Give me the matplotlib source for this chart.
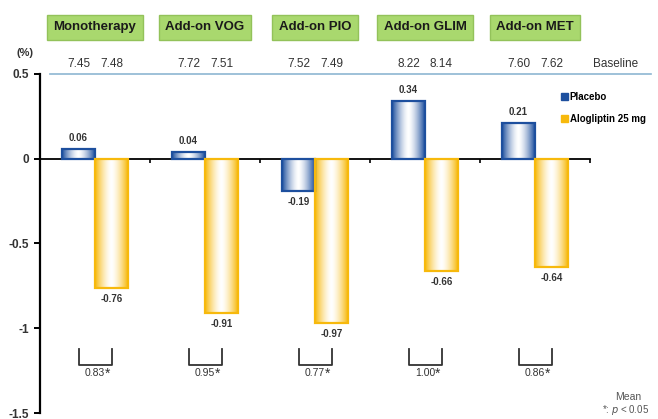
import numpy as np
import matplotlib
matplotlib.use("Agg")
import matplotlib.pyplot as plt
from matplotlib.colors import LinearSegmentedColormap
from matplotlib.patches import Rectangle, Patch

plt.rcParams['font.family'] = ['Liberation Sans', 'DejaVu Sans']

groups = ["Monotherapy", "Add-on VOG", "Add-on PIO", "Add-on GLIM", "Add-on MET"]
placebo = [0.06, 0.04, -0.19, 0.34, 0.21]
alogliptin = [-0.76, -0.91, -0.97, -0.66, -0.64]
baseline_placebo = ["7.45", "7.72", "7.52", "8.22", "7.60"]
baseline_alo = ["7.48", "7.51", "7.49", "8.14", "7.62"]
differences = ["0.83", "0.95", "0.77", "1.00", "0.86"]
yticks = [0.5, 0, -0.5, -1, -1.5]
ytick_labels = ["0.5", "0", "-0.5", "-1", "-1.5"]

BLUE = "#1d4f9e"
YELLOW = "#f7b90c"
TEXT = "#333333"

fig = plt.figure(figsize=(6.58, 4.19), dpi=100)
ax = fig.add_axes([40 / 658, 6 / 419, 550 / 658, 339 / 419])
ax.set_xlim(-0.5, 4.5)
ax.set_ylim(-1.5, 0.5)

w = 0.3
prof = np.abs(np.linspace(-1, 1, 200)) ** 1.5
grad = np.tile(prof, (2, 1))


def gradient_bar(xc, val, color):
    cmap = LinearSegmentedColormap.from_list("g", ["white", color])
    x0, x1 = xc - w / 2, xc + w / 2
    y0, y1 = min(0, val), max(0, val)
    ax.imshow(grad, cmap=cmap, vmin=0, vmax=1, extent=[x0, x1, y0, y1],
              aspect="auto", interpolation="bilinear", zorder=2)
    ax.add_patch(Rectangle((x0, y0), w, y1 - y0, fill=False,
                           edgecolor=color, linewidth=1.6, zorder=3))


for i in range(len(groups)):
    xp, xa = i - w / 2, i + w / 2
    gradient_bar(xp, placebo[i], BLUE)
    gradient_bar(xa, alogliptin[i], YELLOW)
    for xc, v in ((xp, placebo[i]), (xa, alogliptin[i])):
        off = 0.035 if v >= 0 else -0.035
        ax.text(xc, v + off, f"{v:.2f}", ha="center",
                va="bottom" if v >= 0 else "top",
                fontsize=7, fontweight="bold", color=TEXT)
    # baseline values
    ax.text(xp, 0.525, baseline_placebo[i], ha="center", va="bottom",
            fontsize=8.5, color=TEXT)
    ax.text(xa, 0.525, baseline_alo[i], ha="center", va="bottom",
            fontsize=8.5, color=TEXT)
    # difference bracket
    ax.plot([xp, xp, xa, xa], [-1.124, -1.218, -1.218, -1.124],
            color="#333333", linewidth=1.3, zorder=3)
    ax.text(i, -1.235, differences[i], ha="center", va="top",
            fontsize=7.5, color=TEXT)
    ax.text(i + 0.09, -1.225, "*", ha="left", va="top", fontsize=10,
            color=TEXT)
    # group title box
    ax.text(i, 0.775, groups[i], ha="center", va="center", fontsize=9.5,
            fontweight="bold", color="#1a1a1a",
            bbox=dict(boxstyle="square,pad=0.5", facecolor="#a9d86e",
                      edgecolor="#93c25a", linewidth=1))

ax.text(4.73, 0.525, "Baseline", ha="center", va="bottom", fontsize=8.5,
        color=TEXT, clip_on=False)
ax.plot([-0.41, 5.05], [0.5, 0.5], color="#8db6d2", linewidth=1.2,
        clip_on=False, zorder=1)
ax.text(-0.64, 0.625, "(%)", ha="center", va="center", fontsize=8,
        fontweight="bold", color=TEXT)

for s in ("top", "right"):
    ax.spines[s].set_visible(False)
ax.spines["bottom"].set_position(("data", 0))
ax.spines["bottom"].set_linewidth(1.3)
ax.spines["left"].set_linewidth(1.6)
ax.set_xticks([0.5, 1.5, 2.5, 3.5, 4.5])
ax.set_xticklabels([])
ax.tick_params(axis="x", direction="out", length=3, width=1.2)
ax.set_yticks(yticks)
ax.set_yticklabels(ytick_labels, fontsize=8.5, fontweight="bold", color=TEXT)
ax.tick_params(axis="y", direction="out", length=4, width=1.4, pad=4)

handles = [Patch(facecolor=BLUE, edgecolor=BLUE),
           Patch(facecolor=YELLOW, edgecolor=YELLOW)]
fig.legend(handles, ["Placebo", "Alogliptin 25 mg"], loc="upper left",
           bbox_to_anchor=(557 / 658, 1 - 88 / 419), frameon=False,
           handlelength=0.7, handleheight=0.7, borderaxespad=0,
           handletextpad=0.2, labelspacing=1.2,
           prop=dict(weight="bold", size=7))

fig.text(641 / 658, 1 - 397 / 419, "Mean", ha="right", va="center",
         fontsize=7.5, color="#555555")
fig.text(649 / 658, 1 - 410 / 419, "*: $p$ < 0.05", ha="right", va="center",
         fontsize=7, color="#555555")

fig.savefig("out.png", dpi=100)
